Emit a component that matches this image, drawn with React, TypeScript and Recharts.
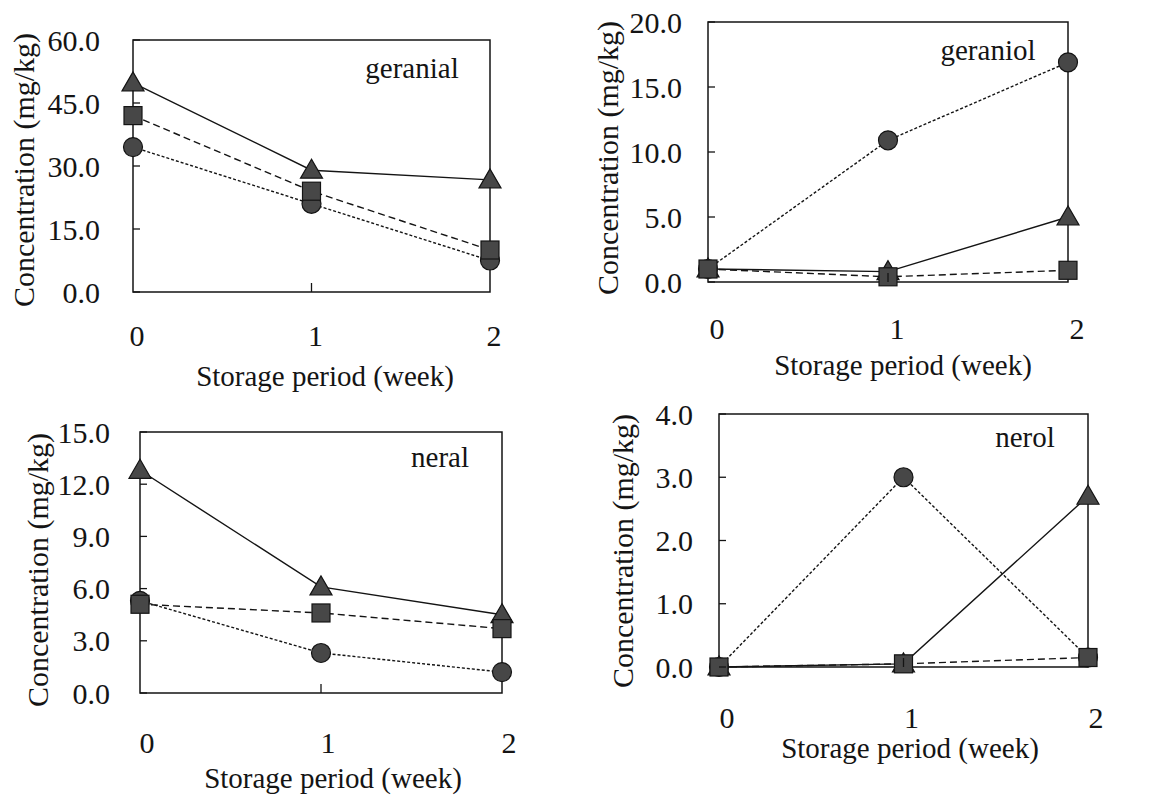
import React from 'react'
import { LineChart, Line, XAxis, YAxis, ReferenceArea } from 'recharts'

const weeks = [0, 1, 2]
const xTicks = [0, 1, 2]

const geranialTicks = [0, 15, 30, 45, 60]
const geranialCircle = [34.5, 21, 7.5]
const geranialSquare = [42, 24, 10]
const geranialTriangle = [49.8, 29, 26.7]

const geraniolTicks = [0, 5, 10, 15, 20]
const geraniolCircle = [1.0, 10.9, 16.9]
const geraniolSquare = [1.0, 0.4, 0.9]
const geraniolTriangle = [1.0, 0.8, 5.0]

const neralTicks = [0, 3, 6, 9, 12, 15]
const neralCircle = [5.3, 2.3, 1.2]
const neralSquare = [5.1, 4.6, 3.7]
const neralTriangle = [12.8, 6.1, 4.5]

const nerolTicks = [0, 1, 2, 3, 4]
const nerolCircle = [0, 3.0, 0.15]
const nerolSquare = [0, 0.05, 0.15]
const nerolTriangle = [0, 0.05, 2.7]

const FONT = '"Liberation Serif", "Times New Roman", serif'
const INK = '#141414'
const MARK = '#474747'

// region = the chart's svg on the page; box / text anchors are page coords
const panels = [
  {
    name: 'geranial', ticks: geranialTicks, circle: geranialCircle, square: geranialSquare, triangle: geranialTriangle,
    region: { x: 0, y: 0, w: 560, h: 400 }, box: { l: 133, t: 40, r: 490, b: 292 },
    yGap: 33, xGap: 43, xDx: 4, nameAt: [412, 78], xTitleAt: [325, 376], yTitleAt: [23, 170],
  },
  {
    name: 'geraniol', ticks: geraniolTicks, circle: geraniolCircle, square: geraniolSquare, triangle: geraniolTriangle,
    region: { x: 580, y: 0, w: 581, h: 400 }, box: { l: 708, t: 22, r: 1068, b: 282 },
    yGap: 26, xGap: 46, xDx: 9, nameAt: [988, 60], xTitleAt: [903, 365], yTitleAt: [607, 158],
  },
  {
    name: 'neral', ticks: neralTicks, circle: neralCircle, square: neralSquare, triangle: neralTriangle,
    region: { x: 0, y: 400, w: 560, h: 396 }, box: { l: 140, t: 432, r: 502, b: 693 },
    yGap: 30, xGap: 49, xDx: 7, nameAt: [440, 467], xTitleAt: [333, 778], yTitleAt: [37, 570],
  },
  {
    name: 'nerol', ticks: nerolTicks, circle: nerolCircle, square: nerolSquare, triangle: nerolTriangle,
    region: { x: 580, y: 385, w: 581, h: 411 }, box: { l: 719, t: 414, r: 1088, b: 667 },
    yGap: 26, xGap: 50, xDx: 8, nameAt: [1025, 447], xTitleAt: [910, 748], yTitleAt: [622, 551],
  },
]

function CircleDot(props: any) {
  const { cx, cy, index } = props
  if (cx == null || cy == null) return <g key={`c${index}`} />
  return <circle key={`c${index}`} cx={cx} cy={cy} r={9.5} fill={MARK} stroke={INK} strokeWidth={1.2} />
}

function SquareDot(props: any) {
  const { cx, cy, index } = props
  if (cx == null || cy == null) return <g key={`s${index}`} />
  return <rect key={`s${index}`} x={cx - 9} y={cy - 9} width={18} height={18} fill={MARK} stroke={INK} strokeWidth={1.2} />
}

function TriangleDot(props: any) {
  const { cx, cy, index } = props
  if (cx == null || cy == null) return <g key={`t${index}`} />
  const pts = `${cx},${cy - 11} ${cx - 11},${cy + 8} ${cx + 11},${cy + 8}`
  return <polygon key={`t${index}`} points={pts} fill={MARK} stroke={INK} strokeWidth={1.2} />
}

function XTick(props: any) {
  const { x, y, payload, gap, dx } = props
  return (
    <g>
      {payload.value === 1 && <line x1={x} x2={x} y1={y} y2={y - 9} stroke={INK} strokeWidth={1.3} />}
      <text x={x + dx} y={y + gap} textAnchor="middle" dominantBaseline="central"
        fontFamily={FONT} fontSize={30} fill={INK}>{payload.value}</text>
    </g>
  )
}

function YTick(props: any) {
  const { x, y, payload, gap } = props
  return (
    <g>
      <line x1={x} x2={x + 7} y1={y} y2={y} stroke={INK} strokeWidth={1.3} />
      <text x={x - gap} y={y} textAnchor="end" dominantBaseline="central"
        fontFamily={FONT} fontSize={30} fill={INK}>{payload.value.toFixed(1)}</text>
    </g>
  )
}

function Panel({ p }: { p: typeof panels[number] }) {
  const data = weeks.map((w, i) => ({ week: w, circle: p.circle[i], square: p.square[i], triangle: p.triangle[i] }))
  const { region, box } = p
  const yMax = p.ticks[p.ticks.length - 1]
  const nx = p.nameAt[0] - region.x, ny = p.nameAt[1] - region.y
  const tx = p.xTitleAt[0] - region.x, ty = p.xTitleAt[1] - region.y
  const yx = p.yTitleAt[0] - region.x, yy = p.yTitleAt[1] - region.y
  return (
    <div style={{ position: 'absolute', left: region.x, top: region.y }}>
      <LineChart
        width={region.w}
        height={region.h}
        data={data}
        margin={{ top: box.t - region.y, right: region.x + region.w - box.r, left: 0, bottom: 0 }}
      >
        <XAxis
          dataKey="week" type="number" domain={[0, 2]} ticks={xTicks} interval={0}
          axisLine={false} tickLine={false} tickSize={0} tickMargin={0}
          height={region.y + region.h - box.b}
          tick={(tp: any) => <XTick {...tp} gap={p.xGap} dx={p.xDx} />}
        />
        <YAxis
          type="number" domain={[0, yMax]} ticks={p.ticks} interval={0}
          axisLine={false} tickLine={false} tickSize={0} tickMargin={0}
          width={box.l - region.x}
          tick={(tp: any) => <YTick {...tp} gap={p.yGap} />}
        />
        <ReferenceArea x1={0} x2={2} y1={0} y2={yMax} fill="none" fillOpacity={0} stroke={INK} strokeWidth={1.5} ifOverflow="visible" />
        <Line dataKey="circle" stroke={INK} strokeWidth={1.4} strokeDasharray="3 2" dot={CircleDot} isAnimationActive={false} />
        <Line dataKey="triangle" stroke={INK} strokeWidth={1.4} dot={TriangleDot} isAnimationActive={false} />
        <Line dataKey="square" stroke={INK} strokeWidth={1.4} strokeDasharray="7 4" dot={SquareDot} isAnimationActive={false} />
        <text x={nx} y={ny} textAnchor="middle" fontFamily={FONT} fontSize={29} fill={INK}>{p.name}</text>
        <text x={tx} y={ty} textAnchor="middle" dominantBaseline="central" fontFamily={FONT} fontSize={29} fill={INK}>
          Storage period (week)
        </text>
        <text
          x={yx} y={yy} textAnchor="middle" dominantBaseline="central"
          transform={`rotate(-90 ${yx} ${yy})`}
          fontFamily={FONT} fontSize={30} fill={INK}
        >
          Concentration (mg/kg)
        </text>
      </LineChart>
    </div>
  )
}

export default function App() {
  return (
    <div style={{ position: 'absolute', left: 0, top: 0, width: 1161, height: 796, background: '#fff' }}>
      {panels.map((p) => <Panel key={p.name} p={p} />)}
    </div>
  )
}
